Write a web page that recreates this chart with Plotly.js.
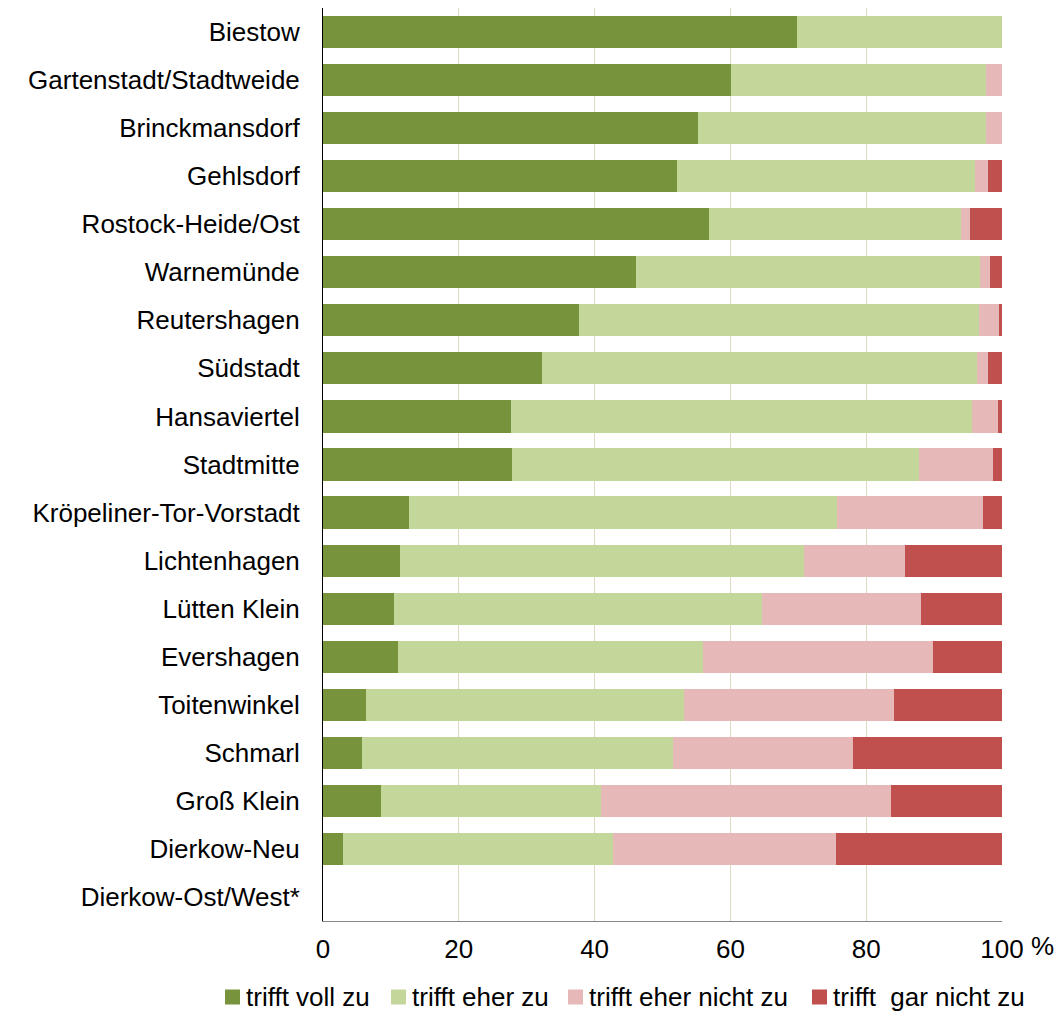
<!DOCTYPE html>
<html>
<head>
<meta charset="utf-8">
<script src="https://cdn.plot.ly/plotly-3.0.1.min.js"></script>
<style>
  html, body { margin: 0; padding: 0; background: #ffffff; }
  #chart { width: 1063px; height: 1013px; }
</style>
</head>
<body>
<div id="chart"></div>
<script>
// Stadtbereiche (von oben nach unten)
const districts = [
  "Biestow", "Gartenstadt/Stadtweide", "Brinckmansdorf", "Gehlsdorf",
  "Rostock-Heide/Ost", "Warnemünde", "Reutershagen", "Südstadt",
  "Hansaviertel", "Stadtmitte", "Kröpeliner-Tor-Vorstadt", "Lichtenhagen",
  "Lütten Klein", "Evershagen", "Toitenwinkel", "Schmarl", "Groß Klein",
  "Dierkow-Neu", "Dierkow-Ost/West*"
];

// Anteile der Antworten in Prozent
const volltZu = [69.8, 60.1, 55.3, 52.2, 56.9, 46.1, 37.7, 32.2, 27.7, 27.8, 12.6, 11.3, 10.5, 11.0, 6.3, 5.8, 8.5, 3.0, null];
const eherZu = [30.2, 37.6, 42.3, 43.8, 37.0, 50.7, 58.9, 64.1, 67.9, 60.0, 63.1, 59.5, 54.1, 45.0, 46.9, 45.8, 32.5, 39.7, null];
const eherNichtZu = [0, 2.3, 2.4, 2.0, 1.4, 1.4, 3.0, 1.7, 3.8, 10.9, 21.5, 14.9, 23.4, 33.9, 30.9, 26.5, 42.7, 32.9, null];
const garNichtZu = [0, 0, 0, 2.0, 4.7, 1.8, 0.4, 2.0, 0.6, 1.3, 2.8, 14.3, 12.0, 10.1, 15.9, 21.9, 16.3, 24.4, null];

const seriesNames = ["trifft voll zu", "trifft eher zu", "trifft eher nicht zu", "trifft\u00a0 gar nicht zu"];
const seriesColors = ["#77933C", "#C4D79B", "#E6B9B8", "#C0504D"];
const seriesValues = [volltZu, eherZu, eherNichtZu, garNichtZu];

const tickVals = [0, 20, 40, 60, 80, 100];
const tickText = ["0", "20", "40", "60", "80", "100"];

const FONT = "Liberation Sans, Arial, sans-serif";
const FONT_SIZE = 26;

// Plotfläche in Pixeln
const W = 1063, H = 1013;
const M = { l: 323, r: 61, t: 8, b: 92 };
const plotW = W - M.l - M.r;
const plotH = H - M.t - M.b;
const toPaperX = px => (px - M.l) / plotW;
const toPaperY = py => (H - M.b - py) / plotH;

const traces = seriesValues.map((vals, i) => ({
  type: "bar",
  orientation: "h",
  name: seriesNames[i],
  y: districts,
  x: vals,
  marker: { color: seriesColors[i], line: { width: 0 } },
  hoverinfo: "x+y+name"
}));

// Legende unter der Grafik in einer Zeile: Farbfeld + Beschriftung
const legendSquareLeft = [225, 391, 568, 812];
const legendSquareSize = 15;
const legendCenterY = 997;
const legendShapes = seriesNames.map((name, i) => ({
  type: "rect",
  xref: "paper", yref: "paper",
  x0: toPaperX(legendSquareLeft[i]),
  x1: toPaperX(legendSquareLeft[i] + legendSquareSize),
  y0: toPaperY(legendCenterY + legendSquareSize / 2),
  y1: toPaperY(legendCenterY - legendSquareSize / 2),
  fillcolor: seriesColors[i],
  line: { width: 0 },
  layer: "above"
}));
const legendLabels = seriesNames.map((name, i) => ({
  text: name,
  xref: "paper", yref: "paper",
  x: toPaperX(legendSquareLeft[i] + legendSquareSize + 4),
  y: toPaperY(legendCenterY),
  xanchor: "left", yanchor: "middle",
  showarrow: false,
  font: { family: FONT, size: FONT_SIZE, color: "#000000" }
}));

const layout = {
  width: W,
  height: H,
  margin: M,
  paper_bgcolor: "#ffffff",
  plot_bgcolor: "#ffffff",
  barmode: "stack",
  bargap: 0.33,
  font: { family: FONT, size: FONT_SIZE, color: "#000000" },
  showlegend: false,
  xaxis: {
    range: [0, 100],
    tickvals: tickVals,
    ticktext: tickText,
    showgrid: true,
    gridcolor: "#DDD9C4",
    gridwidth: 1,
    zeroline: false,
    showline: true,
    linecolor: "#868686",
    linewidth: 1,
    ticks: "outside",
    ticklen: 5,
    tickcolor: "rgba(0,0,0,0)",
    tickfont: { family: FONT, size: FONT_SIZE, color: "#000000" },
    fixedrange: true
  },
  yaxis: {
    autorange: "reversed",
    type: "category",
    showgrid: false,
    zeroline: false,
    showline: true,
    linecolor: "#000000",
    linewidth: 1,
    ticks: "outside",
    ticklen: 17,
    tickcolor: "rgba(0,0,0,0)",
    tickfont: { family: FONT, size: FONT_SIZE, color: "#000000" },
    fixedrange: true
  },
  shapes: legendShapes,
  annotations: [{
    text: "%",
    xref: "x",
    yref: "paper",
    x: 100,
    y: toPaperY(946),
    xanchor: "left",
    yanchor: "middle",
    xshift: 27,
    showarrow: false,
    font: { family: FONT, size: FONT_SIZE, color: "#000000" }
  }].concat(legendLabels)
};

Plotly.newPlot("chart", traces, layout, { displayModeBar: false, staticPlot: true });
</script>
</body>
</html>
